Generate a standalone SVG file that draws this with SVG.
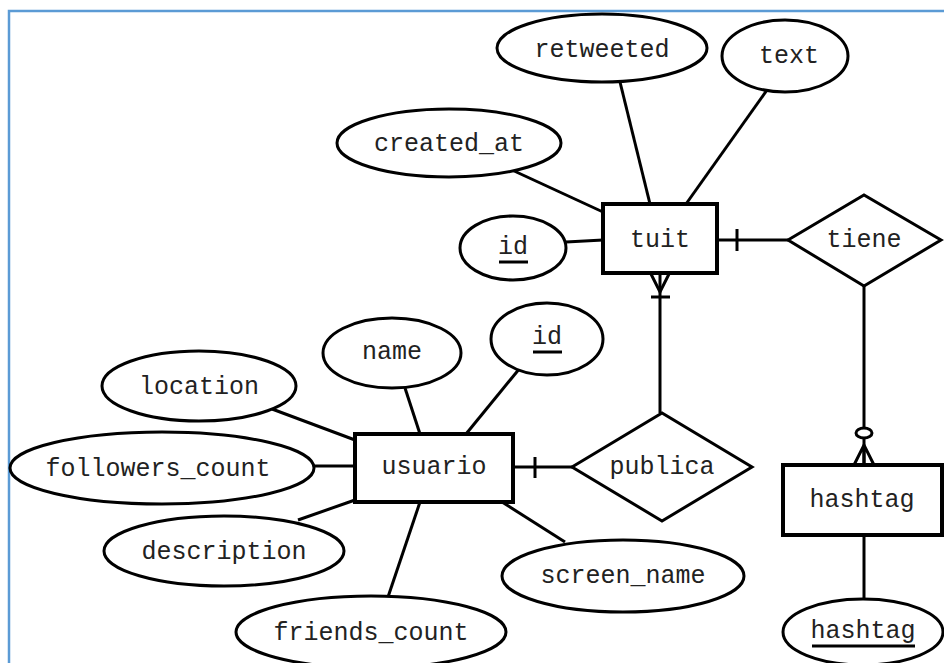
<svg xmlns="http://www.w3.org/2000/svg" width="944" height="663" viewBox="0 0 944 663">
  <style>
    .shape { fill: #ffffff; stroke: #000000; stroke-width: 3; }
    .box { fill: #ffffff; stroke: #000000; stroke-width: 4; }
    .label { font-family: "Liberation Mono", "Courier New", monospace; font-size: 25px; fill: #222222; text-anchor: middle; }
    .key { stroke: #000000; stroke-width: 3; }
    #connectors line, #connectors path { stroke: #000000; stroke-width: 3; fill: none; }
    .frame { fill: none; stroke: #5b9bd5; stroke-width: 2.5; }
  </style>

  <rect width="944" height="663" fill="#ffffff"/>
  <rect class="frame" x="9" y="11" width="980" height="700"/>

  <!-- relationship lines and attribute links -->
  <g id="connectors">
    <!-- tuit attributes -->
    <line x1="620" y1="82" x2="650" y2="204"/>
    <line x1="767" y1="90" x2="686" y2="204"/>
    <line x1="512" y1="170" x2="603" y2="212"/>
    <line x1="566" y1="242" x2="603" y2="240"/>
    <!-- tuit - tiene (one) -->
    <line x1="717" y1="240" x2="788" y2="240"/>
    <line x1="737" y1="229" x2="737" y2="251"/>
    <!-- tiene - hashtag (zero or many) -->
    <line x1="864" y1="286" x2="864" y2="465"/>
    <ellipse cx="864" cy="433" rx="8" ry="5" fill="#ffffff" stroke="#000" stroke-width="3"/>
    <path d="M854 465 L864 445 L874 465 M864 445 L864 465"/>
    <!-- hashtag key -->
    <line x1="864" y1="535" x2="864" y2="599"/>
    <!-- publica - tuit (one or many) -->
    <line x1="660" y1="413" x2="660" y2="274"/>
    <path d="M651 274 L660 292 L669 274"/>
    <line x1="651" y1="297" x2="670" y2="297"/>
    <!-- usuario - publica (one) -->
    <line x1="513" y1="467" x2="572" y2="467"/>
    <line x1="535" y1="457" x2="535" y2="478"/>
    <!-- usuario attributes -->
    <line x1="405" y1="388" x2="420" y2="434"/>
    <line x1="520" y1="368" x2="466" y2="434"/>
    <line x1="272" y1="409" x2="355" y2="440"/>
    <line x1="314" y1="466" x2="355" y2="466"/>
    <line x1="298" y1="520" x2="355" y2="500"/>
    <line x1="388" y1="597" x2="420" y2="502"/>
    <line x1="565" y1="542" x2="502" y2="502"/>
  </g>

  <!-- entities -->
  <g id="tuit">
    <rect class="box" x="603" y="204" width="114" height="69"/>
    <text class="label" x="660" y="247">tuit</text>
  </g>
  <g id="usuario">
    <rect class="box" x="355" y="434" width="158" height="68"/>
    <text class="label" x="434" y="474">usuario</text>
  </g>
  <g id="hashtag">
    <rect class="box" x="783" y="465" width="159" height="70"/>
    <text class="label" x="862" y="507">hashtag</text>
  </g>

  <!-- relationships -->
  <g id="tiene">
    <polygon class="shape" points="788,240 864,195 941,240 864,286"/>
    <text class="label" x="864" y="247">tiene</text>
  </g>
  <g id="publica">
    <polygon class="shape" points="572,467 662,413 752,467 662,521"/>
    <text class="label" x="662" y="474">publica</text>
  </g>

  <!-- tuit attributes -->
  <g id="attr-retweeted">
    <ellipse class="shape" cx="602" cy="48" rx="105" ry="34"/>
    <text class="label" x="602" y="57">retweeted</text>
  </g>
  <g id="attr-text">
    <ellipse class="shape" cx="785" cy="56" rx="63" ry="36"/>
    <text class="label" x="789" y="63">text</text>
  </g>
  <g id="attr-created_at">
    <ellipse class="shape" cx="449" cy="143" rx="112" ry="34"/>
    <text class="label" x="449" y="151">created_at</text>
  </g>
  <g id="attr-tuit-id">
    <ellipse class="shape" cx="513" cy="248" rx="53" ry="32"/>
    <text class="label" x="513" y="254">id</text>
    <line class="key" x1="499" y1="262" x2="528" y2="262"/>
  </g>

  <!-- usuario attributes -->
  <g id="attr-name">
    <ellipse class="shape" cx="392" cy="353" rx="69" ry="35"/>
    <text class="label" x="392" y="359">name</text>
  </g>
  <g id="attr-usuario-id">
    <ellipse class="shape" cx="547" cy="339" rx="56" ry="36"/>
    <text class="label" x="547" y="344">id</text>
    <line class="key" x1="533" y1="352" x2="562" y2="352"/>
  </g>
  <g id="attr-location">
    <ellipse class="shape" cx="199" cy="386" rx="97" ry="35"/>
    <text class="label" x="199" y="394">location</text>
  </g>
  <g id="attr-followers_count">
    <ellipse class="shape" cx="162" cy="468" rx="152" ry="36"/>
    <text class="label" x="158" y="476">followers_count</text>
  </g>
  <g id="attr-description">
    <ellipse class="shape" cx="224" cy="551" rx="120" ry="35"/>
    <text class="label" x="224" y="559">description</text>
  </g>
  <g id="attr-friends_count">
    <ellipse class="shape" cx="371" cy="632" rx="135" ry="36"/>
    <text class="label" x="371" y="640">friends_count</text>
  </g>
  <g id="attr-screen_name">
    <ellipse class="shape" cx="623" cy="576" rx="121" ry="36"/>
    <text class="label" x="623" y="583">screen_name</text>
  </g>

  <!-- hashtag attribute -->
  <g id="attr-hashtag">
    <ellipse class="shape" cx="863" cy="632" rx="80" ry="33"/>
    <text class="label" x="863" y="638">hashtag</text>
    <line class="key" x1="812" y1="646" x2="915" y2="646"/>
  </g>
</svg>
